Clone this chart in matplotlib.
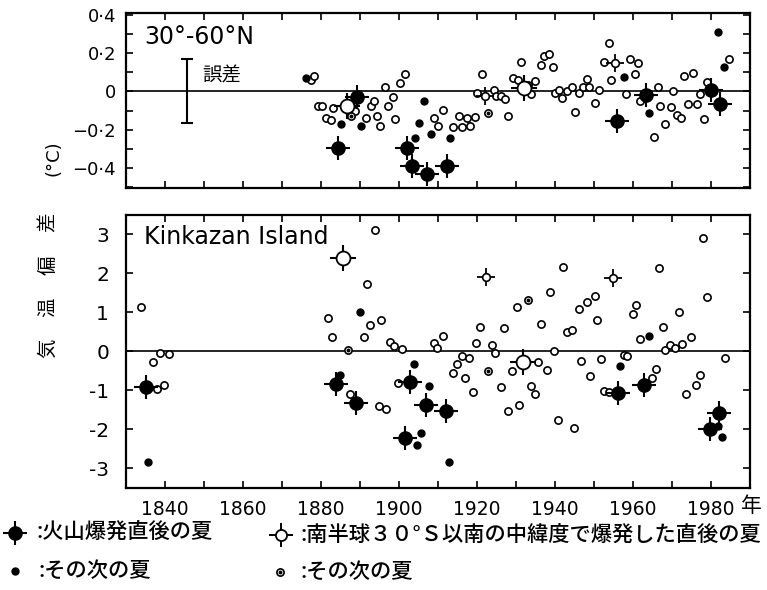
import matplotlib
matplotlib.use("Agg")
import matplotlib.pyplot as plt
import numpy as np
from matplotlib.ticker import MultipleLocator, FixedLocator, FixedFormatter

# ---- upper panel: 30-60N mean summer temperature anomaly (deg C) ----
top_open_year = [1877.4, 1878.2, 1879.3, 1880.2, 1881.3, 1882.6, 1883.2, 1888.7, 1891.5, 1892.8,
                 1893.7, 1894.3, 1895.1, 1896.5, 1897.2, 1898.5, 1899.1, 1900.2, 1901.5, 1908.9,
                 1910.1, 1911.2, 1914.0, 1915.4, 1916.1, 1917.4, 1918.2, 1919.4, 1920.0, 1921.3,
                 1924.3, 1925.0, 1926.2, 1927.3, 1927.9, 1929.2, 1930.5, 1931.3, 1933.9, 1935.0,
                 1936.4, 1937.1, 1938.5, 1939.4, 1939.9, 1941.0, 1941.8, 1943.1, 1944.3, 1945.2,
                 1946.2, 1947.3, 1948.3, 1948.8, 1950.2, 1951.2, 1952.5, 1953.9, 1954.3, 1958.1,
                 1959.3, 1960.6, 1961.2, 1961.7, 1965.4, 1966.5, 1966.9, 1968.2, 1969.7, 1970.2,
                 1971.2, 1972.3, 1973.2, 1974.2, 1975.3, 1976.3, 1977.2, 1978.3, 1979.1, 1984.5]
top_open_val = [0.058, 0.079, -0.077, -0.077, -0.14, -0.149, -0.089, -0.10, -0.14, -0.077,
                -0.051, -0.128, -0.18, 0.021, -0.074, -0.03, -0.142, 0.046, 0.093, -0.14,
                -0.18, -0.098, -0.184, -0.13, -0.184, -0.14, -0.179, -0.133, -0.009, 0.089,
                0.007, -0.025, -0.025, -0.039, -0.13, 0.072, 0.058, 0.154, -0.016, 0.054,
                0.137, 0.183, 0.198, 0.128, -0.011, 0.007, -0.033, 0.002, 0.023, -0.109,
                -0.011, 0.025, 0.067, 0.025, -0.063, 0.005, 0.156, 0.251, 0.058, -0.012,
                0.168, 0.089, 0.147, -0.051, -0.238, 0.021, -0.074, -0.172, -0.081, 0.002,
                -0.121, -0.14, 0.081, -0.068, 0.095, -0.068, -0.016, -0.142, 0.049, 0.168]
top_next_year = [1876.1, 1885.1, 1890.2, 1904.1, 1905.2, 1906.4, 1908.2, 1913.2, 1957.6, 1964.1,
                 1981.7, 1983.3]
top_next_val = [0.068, -0.168, -0.18, -0.244, -0.165, -0.049, -0.223, -0.244, 0.075, -0.112,
                0.309, 0.125]
top_shnext_year = [1887.8, 1922.9, 1933.2]
top_shnext_val = [-0.13, -0.112, 0.033]
top_volc_year = [1884.3, 1889.3, 1902.2, 1903.4, 1907.2, 1912.4, 1955.8, 1963.3, 1980.0, 1982.2]
top_volc_val = [-0.295, -0.028, -0.295, -0.39, -0.43, -0.39, -0.153, -0.021, 0.007, -0.065]
top_sh_major_year = [1886.6, 1932.0]
top_sh_major_val = [-0.077, 0.019]
top_sh_minor_year = [1922.2, 1955.4]
top_sh_minor_val = [-0.025, 0.146]

# ---- lower panel: Kinkazan Island ----
bot_open_year = [1834.0, 1837.1, 1838.7, 1841.0, 1838.0, 1839.9, 1881.8, 1882.9, 1887.5, 1891.9,
                 1894.0, 1891.0, 1892.7, 1895.5, 1894.8, 1896.8, 1897.8, 1898.7, 1900.8, 1899.7,
                 1909.0, 1909.7, 1911.3, 1913.8, 1914.9, 1916.1, 1917.9, 1916.9, 1918.9, 1919.8,
                 1920.9, 1924.0, 1924.7, 1926.1, 1927.0, 1928.0, 1929.0, 1930.2, 1930.8, 1933.8,
                 1934.8, 1935.7, 1936.5, 1937.9, 1938.8, 1939.8, 1940.7, 1942.0, 1943.0, 1944.3,
                 1944.8, 1946.1, 1946.8, 1948.1, 1948.9, 1950.3, 1950.8, 1951.8, 1952.6, 1953.8,
                 1957.6, 1958.6, 1959.9, 1960.8, 1961.8, 1965.0, 1965.9, 1966.8, 1967.8, 1968.2,
                 1969.5, 1970.8, 1971.9, 1972.6, 1974.8, 1973.6, 1976.2, 1977.1, 1977.9, 1979.1,
                 1983.7]
bot_open_val = [1.13, -0.26, -0.05, -0.06, -0.95, -0.85, 0.86, 0.37, -1.08, 1.73,
                3.11, 0.38, 0.69, 0.82, -1.40, -1.47, 0.24, 0.13, 0.06, -0.82,
                0.22, 0.08, 0.40, -0.54, -0.33, -0.12, -0.16, -0.69, -1.04, 0.21,
                0.64, 0.17, -0.05, -0.91, 0.61, -1.53, -0.51, 1.14, -1.36, -0.89,
                -1.08, -0.28, 0.71, -0.48, 1.53, 0.0, -1.75, 2.16, 0.50, 0.54,
                -1.97, 1.09, -0.25, 1.27, -0.63, 1.42, 0.82, -0.19, -1.02, -1.03,
                -0.09, -0.11, 0.96, 1.20, 0.32, -0.69, -0.46, 2.14, 0.63, 0.05,
                0.17, 0.10, 1.02, 0.18, 0.37, -1.08, -0.85, -0.60, 2.91, 1.39,
                -0.16]
bot_next_year = [1835.8, 1884.9, 1890.1, 1904.0, 1905.8, 1904.6, 1907.7, 1912.8, 1956.8, 1964.0,
                 1981.9, 1982.9]
bot_next_val = [-2.83, -0.60, 1.01, -0.32, -2.09, -2.40, -0.89, -2.84, -0.37, 0.41,
                -1.90, -2.19]
bot_shnext_year = [1886.9, 1922.9, 1933.0]
bot_shnext_val = [0.05, -0.51, 1.33]
bot_volc_year = [1835.1, 1883.8, 1888.9, 1902.8, 1901.5, 1906.9, 1912.1, 1956.1, 1962.8, 1979.8,
                 1982.1]
bot_volc_val = [-0.91, -0.84, -1.32, -0.77, -2.21, -1.38, -1.52, -1.06, -0.85, -1.99,
                -1.57]
bot_sh_major_year = [1885.7, 1931.8]
bot_sh_major_val = [2.40, -0.28]
bot_sh_minor_year = [1922.3, 1955.0]
bot_sh_minor_val = [1.90, 1.88]

top_yticks = [0.4, 0.2, 0.0, -0.2, -0.4]
top_yticklabels = ["0·4", "0·2", "0", "−0·2", "−0·4"]
bot_yticks = [3, 2, 1, 0, -1, -2, -3]
bot_yticklabels = ["3", "2", "1", "0", "-1", "-2", "-3"]
xticks_labeled = [1840, 1860, 1880, 1900, 1920, 1940, 1960, 1980]

jp = ["Noto Sans CJK JP", "DejaVu Sans"]
narrow = ["Liberation Sans Narrow", "DejaVu Sans"]


def draw_points(ax, open_x, open_y, next_x, next_y, shn_x, shn_y, volc_x, volc_y,
                shM_x, shM_y, shm_x, shm_y):
    ax.plot(open_x, open_y, "o", ms=5.2, mfc="white", mec="black", mew=1.2, ls="none", zorder=3)
    ax.plot(next_x, next_y, "o", ms=5.0, color="black", ls="none", zorder=3)
    ax.plot(shn_x, shn_y, "o", ms=5.2, mfc="white", mec="black", mew=1.2, ls="none", zorder=3)
    ax.plot(shn_x, shn_y, "o", ms=1.8, color="black", ls="none", zorder=4)
    ax.plot(volc_x, volc_y, "+", ms=17, mew=1.5, color="black", ls="none", zorder=4)
    ax.plot(volc_x, volc_y, "o", ms=9.5, color="black", ls="none", zorder=5)
    ax.plot(shM_x, shM_y, "+", ms=19, mew=1.5, color="black", ls="none", zorder=4)
    ax.plot(shM_x, shM_y, "o", ms=10, mfc="white", mec="black", mew=1.3, ls="none", zorder=5)
    ax.plot(shm_x, shm_y, "+", ms=13, mew=1.3, color="black", ls="none", zorder=4)
    ax.plot(shm_x, shm_y, "o", ms=5.5, mfc="white", mec="black", mew=1.2, ls="none", zorder=5)


def style_axes(ax):
    for s in ax.spines.values():
        s.set_linewidth(1.6)
    ax.set_xlim(1830, 1990)
    ax.xaxis.set_major_locator(MultipleLocator(20))
    ax.xaxis.set_minor_locator(MultipleLocator(10))
    ax.tick_params(which="both", direction="in", top=True, right=True, length=5, width=1.2)
    ax.axhline(0, color="black", lw=1.2, zorder=1)


fig = plt.figure(figsize=(7.67, 5.90), dpi=100)
ax1 = fig.add_axes([0.164, 0.6814, 0.8138, 0.2966])
ax2 = fig.add_axes([0.164, 0.1729, 0.8138, 0.4627])

# upper panel
style_axes(ax1)
ax1.set_ylim(-0.505, 0.41)
ax1.yaxis.set_major_locator(FixedLocator(top_yticks))
ax1.yaxis.set_major_formatter(FixedFormatter(top_yticklabels))
ax1.yaxis.set_minor_locator(MultipleLocator(0.1))
ax1.tick_params(axis="y", labelsize=13, pad=7)
ax1.tick_params(axis="x", labelbottom=False)
draw_points(ax1, top_open_year, top_open_val, top_next_year, top_next_val,
            top_shnext_year, top_shnext_val, top_volc_year, top_volc_val,
            top_sh_major_year, top_sh_major_val, top_sh_minor_year, top_sh_minor_val)
ax1.errorbar([1845.6], [0.002], yerr=[0.165], color="black", capsize=4, elinewidth=1.5,
             capthick=1.5, fmt="none")
ax1.text(1849.7, 0.079, "誤差", family=jp, fontsize=14, va="center", ha="left")
ax1.text(0.029, 0.865, "30°-60°N", transform=ax1.transAxes, fontsize=17, va="center")

# lower panel
style_axes(ax2)
ax2.set_ylim(-3.5, 3.5)
ax2.yaxis.set_major_locator(FixedLocator(bot_yticks))
ax2.yaxis.set_major_formatter(FixedFormatter(bot_yticklabels))
ax2.tick_params(axis="y", labelsize=14.5, pad=12)
ax2.tick_params(axis="x", labelsize=13.5, pad=9)
ax2.set_xticks(xticks_labeled)
for lab in ax2.get_xticklabels():
    lab.set_family(narrow)
draw_points(ax2, bot_open_year, bot_open_val, bot_next_year, bot_next_val,
            bot_shnext_year, bot_shnext_val, bot_volc_year, bot_volc_val,
            bot_sh_major_year, bot_sh_major_val, bot_sh_minor_year, bot_sh_minor_val)
ax2.text(0.029, 0.918, "Kinkazan Island", transform=ax2.transAxes, fontsize=17, va="center")

# y label, characters spaced out vertically and rotated
W, H = 767.0, 590.0
for ch, ypx in zip("気温偏差", [348, 307, 265, 222]):
    fig.text(48 / W, 1 - ypx / H, ch, family=jp, fontsize=14, rotation=90,
             ha="center", va="center")
fig.text(53 / W, 1 - 158 / H, "(°C)", fontsize=13, rotation=90, ha="center", va="center")
fig.text(751 / W, 1 - 506 / H, "年", family=jp, fontsize=15, ha="center", va="center")

# legend drawn on an overlay in pixel units
lax = fig.add_axes([0, 0, 1, 1])
lax.set_xlim(0, W)
lax.set_ylim(H, 0)
lax.axis("off")
lax.plot([15], [533], "+", ms=17, mew=1.5, color="black")
lax.plot([15], [533], "o", ms=9.5, color="black")
lax.plot([15], [571], "o", ms=5, color="black")
lax.plot([281], [535], "+", ms=17, mew=1.4, color="black")
lax.plot([281], [535], "o", ms=8, mfc="white", mec="black", mew=1.3)
lax.plot([280], [572], "o", ms=5.2, mfc="white", mec="black", mew=1.2)
lax.plot([280], [572], "o", ms=1.8, color="black")
lax.text(36, 533, ":火山爆発直後の夏", family=jp, fontsize=15.3, weight="medium",
         va="center", ha="left")
lax.text(38, 571, ":その次の夏", family=jp, fontsize=15.3, weight="medium",
         va="center", ha="left")
lax.text(300, 535, ":南半球３０°Ｓ以南の中緯度で爆発した直後の夏", family=jp, fontsize=15.3,
         weight="medium", va="center", ha="left")
lax.text(301, 572, ":その次の夏", family=jp, fontsize=15.3, weight="medium",
         va="center", ha="left")

fig.savefig("out.png", dpi=100)
